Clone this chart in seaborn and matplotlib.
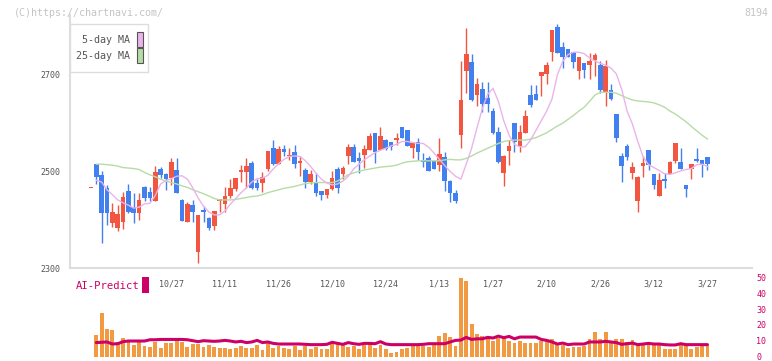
import numpy as np
import pandas as pd
import matplotlib
matplotlib.use("Agg")
import matplotlib.pyplot as plt
from matplotlib.patches import Rectangle
import seaborn as sns

# price candles (first entry is the lone dash before the window)
opens = [2465, 2515, 2493, 2465, 2394, 2383, 2396, 2460, 2427, 2413, 2468, 2458, 2439, 2505, 2495, 2486,
         2503, 2441, 2396, 2430, 2334, 2420, 2403, 2386, 2439, 2432, 2449, 2463, 2499, 2498, 2518,
         2477, 2477, 2505, 2548, 2515, 2547, 2531, 2540, 2518, 2503, 2479, 2477, 2460, 2451, 2463,
         2505, 2495, 2531, 2551, 2527, 2534, 2545, 2580, 2545, 2565, 2560, 2565, 2593, 2586, 2549,
         2560, 2524, 2527, 2522, 2513, 2529, 2480, 2455, 2576, 2707, 2726, 2659, 2671, 2652, 2625,
         2581, 2497, 2543, 2600, 2553, 2580, 2659, 2661, 2697, 2702, 2748, 2799, 2757, 2754, 2748,
         2709, 2724, 2721, 2730, 2721, 2665, 2669, 2619, 2531, 2553, 2497, 2439, 2512, 2544, 2495,
         2450, 2484, 2495, 2522, 2519, 2471, 2505, 2526, 2524, 2529]
highs = [2465, 2515, 2500, 2472, 2434, 2430, 2458, 2474, 2456, 2456, 2470, 2468, 2512, 2510, 2496, 2527,
         2527, 2443, 2437, 2441, 2410, 2428, 2405, 2418, 2441, 2468, 2484, 2487, 2513, 2527, 2521,
         2484, 2498, 2542, 2565, 2553, 2555, 2548, 2555, 2531, 2507, 2502, 2496, 2460, 2464, 2500,
         2509, 2511, 2556, 2557, 2541, 2555, 2579, 2580, 2593, 2567, 2561, 2579, 2593, 2586, 2561,
         2569, 2538, 2531, 2522, 2569, 2541, 2482, 2462, 2728, 2797, 2744, 2693, 2686, 2686, 2631,
         2593, 2534, 2565, 2600, 2596, 2627, 2679, 2679, 2705, 2726, 2793, 2806, 2769, 2754, 2748,
         2738, 2724, 2745, 2745, 2728, 2730, 2681, 2619, 2539, 2557, 2520, 2491, 2532, 2544, 2495,
         2496, 2496, 2522, 2558, 2548, 2472, 2516, 2549, 2524, 2529]
lows = [2465, 2473, 2351, 2389, 2384, 2377, 2381, 2413, 2393, 2399, 2439, 2439, 2439, 2486, 2462, 2472,
        2455, 2398, 2396, 2396, 2311, 2396, 2378, 2378, 2417, 2417, 2444, 2460, 2479, 2465, 2463,
        2462, 2458, 2500, 2513, 2515, 2531, 2524, 2508, 2491, 2466, 2475, 2449, 2441, 2445, 2461,
        2455, 2484, 2515, 2520, 2496, 2507, 2545, 2517, 2545, 2545, 2545, 2555, 2569, 2553, 2527,
        2524, 2510, 2500, 2505, 2500, 2460, 2437, 2434, 2548, 2662, 2646, 2636, 2624, 2624, 2578,
        2518, 2470, 2513, 2541, 2541, 2580, 2633, 2647, 2656, 2681, 2729, 2746, 2715, 2737, 2715,
        2691, 2693, 2691, 2698, 2662, 2636, 2648, 2562, 2479, 2524, 2484, 2417, 2489, 2503, 2464,
        2450, 2466, 2495, 2518, 2505, 2448, 2484, 2519, 2489, 2502]
closes = [2465, 2488, 2413, 2413, 2415, 2412, 2448, 2415, 2413, 2441, 2444, 2446, 2499, 2493, 2484, 2520,
          2455, 2398, 2433, 2417, 2410, 2417, 2382, 2418, 2441, 2449, 2466, 2487, 2501, 2511, 2465,
          2465, 2488, 2542, 2515, 2546, 2541, 2534, 2515, 2522, 2479, 2495, 2455, 2451, 2464, 2487,
          2466, 2507, 2551, 2520, 2522, 2546, 2574, 2541, 2574, 2547, 2550, 2569, 2569, 2553, 2558,
          2540, 2520, 2500, 2505, 2536, 2481, 2456, 2439, 2648, 2744, 2648, 2681, 2640, 2640, 2580,
          2520, 2533, 2553, 2560, 2581, 2615, 2638, 2647, 2705, 2721, 2793, 2746, 2738, 2737, 2726,
          2738, 2710, 2728, 2741, 2669, 2719, 2650, 2570, 2512, 2529, 2510, 2489, 2518, 2513, 2472,
          2482, 2481, 2519, 2558, 2505, 2464, 2516, 2522, 2516, 2516]

# moving averages, one per trading day in the window
ma5 = [2482, 2478, 2462, 2452, 2441, 2435, 2430, 2424, 2426, 2433, 2434, 2450, 2474, 2481, 2485,
       2490, 2491, 2484, 2466, 2445, 2428, 2416, 2410, 2410, 2418, 2432, 2444, 2456, 2466, 2478,
       2485, 2486, 2492, 2505, 2516, 2525, 2531, 2532, 2531, 2522, 2510, 2496, 2484, 2476, 2472,
       2474, 2480, 2490, 2505, 2515, 2524, 2532, 2539, 2544, 2548, 2553, 2556, 2562, 2562, 2560,
       2558, 2558, 2550, 2538, 2525, 2512, 2500, 2490, 2484, 2515, 2548, 2590, 2630, 2660, 2672,
       2645, 2605, 2575, 2556, 2551, 2551, 2565, 2585, 2605, 2625, 2650, 2700, 2728, 2742, 2747,
       2747, 2744, 2735, 2729, 2724, 2720, 2714, 2702, 2670, 2625, 2598, 2562, 2530, 2514, 2508,
       2502, 2495, 2494, 2497, 2501, 2504, 2506, 2514, 2515, 2510]
ma25 = [2515, 2515, 2514, 2513, 2511, 2508, 2507, 2506, 2504, 2498, 2493, 2489, 2484, 2480, 2477,
        2474, 2470, 2467, 2462, 2458, 2454, 2449, 2444, 2441, 2441, 2441, 2442, 2444, 2446, 2448,
        2449, 2452, 2456, 2459, 2462, 2465, 2467, 2469, 2472, 2475, 2476, 2477, 2477, 2477, 2477,
        2480, 2487, 2493, 2497, 2500, 2503, 2505, 2507, 2509, 2510, 2511, 2513, 2517, 2520, 2521,
        2522, 2522, 2522, 2522, 2522, 2524, 2525, 2524, 2524, 2527, 2532, 2538, 2543, 2548, 2553,
        2558, 2562, 2564, 2565, 2565, 2565, 2567, 2570, 2575, 2580, 2587, 2594, 2600, 2608, 2616,
        2625, 2633, 2645, 2658, 2664, 2664, 2664, 2662, 2657, 2652, 2648, 2646, 2645, 2644, 2642,
        2638, 2633, 2625, 2619, 2611, 2603, 2593, 2584, 2575, 2567]

# volume panel
volume = [13.3, 27.5, 17.5, 16.9, 9.2, 11.9, 9.6, 7.5, 9.2, 6.7, 6.0, 9.2, 5.4, 8.8, 8.8, 10.2,
          9.2, 6.0, 8.1, 8.1, 6.0, 7.5, 6.0, 5.4, 5.4, 5.0, 5.4, 6.7, 5.4, 5.4, 7.5, 4.0, 9.2, 5.4,
          6.7, 5.4, 5.0, 6.7, 4.0, 6.7, 4.6, 6.0, 4.6, 4.6, 9.2, 9.2, 7.5, 6.0, 6.7, 4.6, 7.5, 9.2,
          5.4, 7.5, 4.6, 2.5, 2.9, 5.0, 5.4, 6.7, 6.7, 6.7, 6.0, 7.5, 12.9, 15.0, 12.3, 6.7, 49.4,
          48.1, 20.6, 14.2, 12.9, 12.3, 9.6, 11.7, 11.2, 10.0, 8.8, 9.6, 8.8, 8.8, 8.8, 9.6, 10.2,
          10.8, 7.5, 7.5, 5.4, 6.0, 6.0, 6.7, 10.8, 15.8, 11.2, 15.8, 8.8, 10.8, 10.8, 9.2, 10.6,
          7.5, 7.5, 7.5, 7.5, 7.5, 5.0, 5.0, 5.0, 7.5, 7.5, 5.0, 6.0, 6.7, 6.7]
ai_predict = [8.8, 9.0, 9.2, 7.9, 8.1, 9.4, 9.8, 9.8, 9.8, 9.8, 10.6, 10.6, 10.8, 10.8, 10.8, 10.8,
              10.8, 10.6, 10.0, 9.4, 10.0, 9.8, 9.6, 9.8, 10.2, 9.8, 9.2, 9.6, 8.8, 9.2, 10.2, 8.8,
              9.2, 8.3, 7.9, 7.9, 7.9, 7.9, 7.9, 7.7, 7.5, 7.5, 7.5, 7.7, 9.0, 8.3, 7.7, 8.8, 8.1,
              7.7, 8.3, 8.3, 8.1, 9.4, 7.9, 7.5, 7.5, 7.5, 7.5, 7.5, 7.5, 7.7, 8.1, 8.1, 8.1, 8.1,
              9.2, 10.2, 10.4, 12.1, 10.8, 11.2, 11.2, 12.1, 11.7, 12.9, 11.9, 12.7, 11.2, 12.3, 12.3,
              12.3, 12.3, 10.8, 10.2, 9.2, 7.9, 8.5, 7.5, 7.9, 7.9, 7.9, 9.2, 9.2, 9.2, 9.6, 9.2,
              8.8, 7.7, 8.1, 8.5, 7.5, 7.9, 8.3, 7.9, 7.9, 7.5, 7.3, 7.3, 8.1, 7.5, 7.5, 7.5, 7.5, 7.5]

date_labels = ["10/27", "11/11", "11/26", "12/10", "12/24", "1/13", "1/27", "2/10", "2/26", "3/12", "3/27"]
price_ticks = [2300, 2500, 2700]
vol_ticks = [0, 10, 20, 30, 40, 50]

RED, BLUE = "#f25540", "#4280f0"
PINK, GREEN = "#eab4ea", "#b6dca6"
ORANGE, MAGENTA = "#f29a42", "#cc0066"
GREY_TXT, GRID = "#555555", "#dddddd"

sns.set_style("white")
plt.rcParams["font.family"] = ["DejaVu Sans Mono"]

W, H = 772, 361
fig = plt.figure(figsize=(W / 100, H / 100), dpi=100)
ax = fig.add_axes([70 / W, 1 - 268 / H, 682 / W, 253 / H])
axv = fig.add_axes([70 / W, 1 - 356.5 / H, 682 / W, 79 / H])
axv.patch.set_alpha(0)

xlim = (-4.9, 122.3)

# candles
o, h, l, c = (np.array(a, dtype=float) for a in (opens, highs, lows, closes))
idx = np.arange(-1, len(c) - 1)
cols = np.where(c >= o, RED, BLUE)
ax.vlines(idx, l, h, colors=cols, lw=1)
ax.bar(idx, np.maximum(np.abs(c - o), 3), bottom=np.minimum(o, c), width=0.86, color=cols, lw=0)

df = pd.DataFrame({"i": np.arange(len(ma5)), "ma5": ma5, "ma25": ma25,
                   "vol": volume, "ai": ai_predict})
sns.lineplot(data=df, x="i", y="ma25", ax=ax, color=GREEN, lw=1)
sns.lineplot(data=df, x="i", y="ma5", ax=ax, color=PINK, lw=1)

ax.set_xlim(*xlim)
ax.set_ylim(2300, 2824)
ax.set_xlabel("")
ax.set_ylabel("")
for s in ["top", "right"]:
    ax.spines[s].set_visible(False)
for s in ["left", "bottom"]:
    ax.spines[s].set_color(GRID)
    ax.spines[s].set_linewidth(1.5)
ax.set_yticks(price_ticks)
ax.tick_params(axis="y", direction="inout", length=6.5, color=GRID, width=1.2,
               labelsize=6, labelcolor=GREY_TXT, pad=3.5)
ax.set_xticks(np.linspace(xlim[0], xlim[1], 12))
ax.set_xticklabels([])
ax.set_xticks(np.arange(14, 115, 10), minor=True)
ax.set_xticklabels(date_labels, minor=True)
ax.tick_params(axis="x", which="major", direction="inout", length=6, color=GRID, width=1.2)
ax.tick_params(axis="x", which="minor", length=0, labelsize=6, labelcolor=GREY_TXT, pad=8)

# volume + AI line
axv.bar(df["i"], df["vol"], width=0.72, color=ORANGE, lw=0)
sns.lineplot(data=df, x="i", y="ai", ax=axv, color=MAGENTA, lw=2.2)
axv.set_xlim(*xlim)
axv.set_ylim(0, 50)
axv.set_xlabel("")
axv.set_ylabel("")
sns.despine(ax=axv, left=True, bottom=True)
axv.set_xticks([])
axv.yaxis.tick_right()
axv.set_yticks(vol_ticks)
axv.tick_params(axis="y", length=0, labelsize=6, labelcolor=MAGENTA, pad=3)

# legend box
fig.patches.append(Rectangle((70 / W, 1 - 72 / H), 78 / W, 48 / H, transform=fig.transFigure,
                             facecolor="white", edgecolor=GRID, lw=1))
fig.text(130 / W, 1 - 40 / H, "5-day MA", ha="right", va="center", size=7.2, color=GREY_TXT)
fig.text(130 / W, 1 - 56 / H, "25-day MA", ha="right", va="center", size=7.2, color=GREY_TXT)
fig.patches.append(Rectangle((136.5 / W, 1 - 47 / H), 6.5 / W, 15 / H, transform=fig.transFigure,
                             facecolor=PINK, edgecolor=GREY_TXT, lw=0.8))
fig.patches.append(Rectangle((136.5 / W, 1 - 63 / H), 6.5 / W, 15 / H, transform=fig.transFigure,
                             facecolor=GREEN, edgecolor=GREY_TXT, lw=0.8))

# header texts
fig.text(14 / W, 1 - 12.5 / H, "(C)https://chartnavi.com/", ha="left", va="center", size=7.2, color="#c4c4c4")
fig.text(768 / W, 1 - 12.5 / H, "8194", ha="right", va="center", size=7.2, color="#c4c4c4")

fig.text(76 / W, 1 - 286 / H, "AI-Predict", ha="left", va="center", size=7.6, color=MAGENTA)
fig.patches.append(Rectangle((142 / W, 1 - 293 / H), 7 / W, 16 / H, transform=fig.transFigure,
                             facecolor=MAGENTA, edgecolor="none"))

fig.savefig("out.png", dpi=100)
